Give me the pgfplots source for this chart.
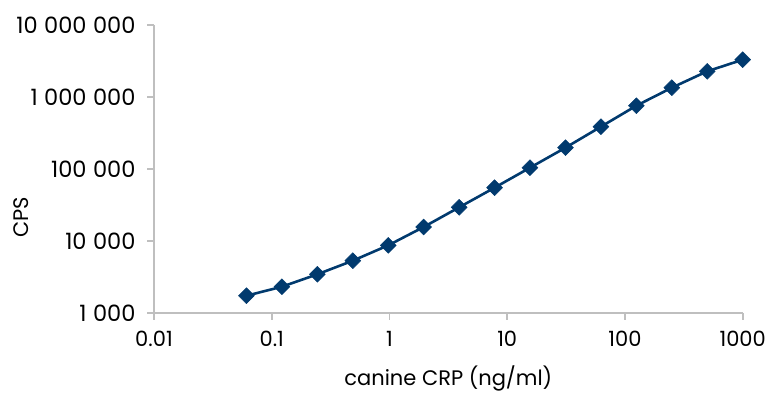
\documentclass[border=0pt]{standalone}
\usepackage{pgfplots}
\pgfplotsset{compat=1.18}
\usepackage{fontspec}
\setmainfont{Poppins}
\definecolor{navy}{HTML}{013A6E}
\definecolor{axgray}{HTML}{BFBFBF}
\newcommand{\thsp}{\hspace{6.5pt}}
\begin{document}
\begin{tikzpicture}[x=1pt,y=1pt]
\path (0,0) rectangle (778pt,400pt);
\begin{axis}[
  at={(154pt,87pt)}, anchor=south west,
  scale only axis, width=588.7pt, height=288pt,
  xmode=log, ymode=log,
  xmin=0.01, xmax=1000, ymin=1000, ymax=1e7,
  axis x line=bottom, axis y line=left,
  axis line style={axgray, line width=1.6pt, -},
  tick style={axgray, line width=1.6pt},
  tick align=outside, major tick length=7pt,
  xminorticks=false, yminorticks=false,
  xtick={0.01,0.1,1,10,100,1000},
  xticklabels={0.01,0.1,1,10,100,1000},
  ytick={1000,10000,100000,1000000,10000000},
  yticklabels={1\thsp000,10\thsp000,100\thsp000,1\thsp000\thsp000,10\thsp000\thsp000},
  ticklabel style={font=\fontsize{21}{24}\selectfont, text=black},
  yticklabel style={xshift=-8pt, font=\fontsize{22.5}{26}\selectfont},
  xticklabel style={yshift=-8pt},
  xlabel={canine CRP (ng/ml)},
  ylabel={CPS},
  label style={font=\fontsize{21}{24}\selectfont},
  xlabel style={at={(axis description cs:0.5,-0.2257)}, anchor=center},
  ylabel style={at={(axis description cs:-0.225,0.333)}, anchor=center},
  clip=false,
]
\addplot[navy, line width=2.6pt, mark=square*, mark size=5.6pt,
  mark options={rotate=45, solid, fill=navy, draw=navy, line width=0.5pt}]
  coordinates {
  (0.061,1738) (0.122,2318) (0.244,3447) (0.488,5327) (0.977,8710)
  (1.95,15640) (3.91,29380) (7.81,55000) (15.6,104200) (31.25,197700)
  (62.5,386800) (125,757000) (250,1346000) (500,2275000) (1000,3296000)
  };
\end{axis}
\pgfresetboundingbox
\path (0,0) rectangle (778pt,400pt);
\end{tikzpicture}
\end{document}
